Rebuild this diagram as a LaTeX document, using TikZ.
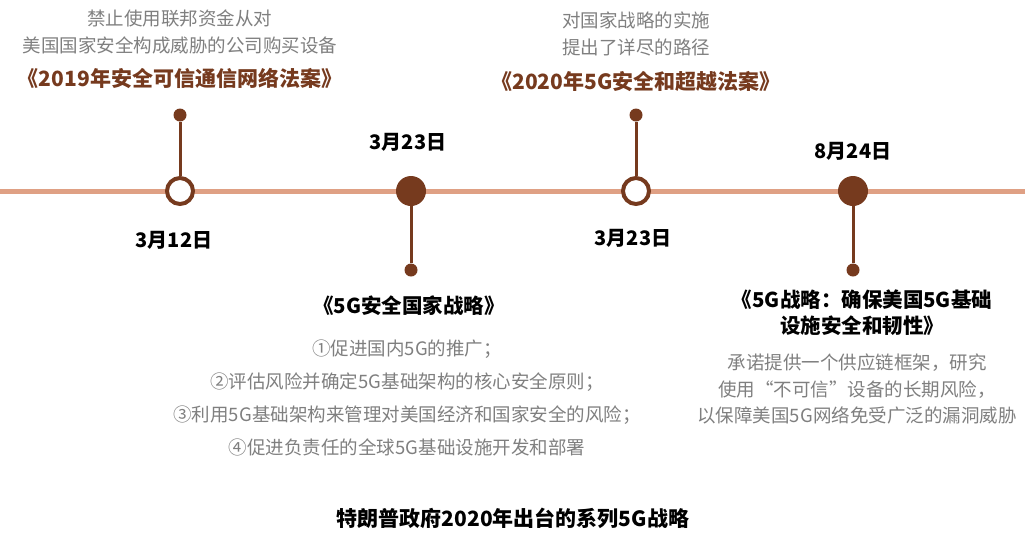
\documentclass[tikz,border=0pt]{standalone}
\usepackage{fontspec}
\setmainfont{Noto Sans CJK SC}
\usepackage{xcolor}
\usepackage{tikz}
\usetikzlibrary{positioning}

\definecolor{brownmark}{HTML}{763A1E}
\definecolor{axisline}{HTML}{DFA084}
\definecolor{greytext}{HTML}{7F7F7F}

\begin{document}
\begin{tikzpicture}[
    x=1pt, y=-1pt,
    axis/.style={axisline, line width=5pt},
    hollow/.style={circle, draw=brownmark, line width=4pt, fill=white, minimum size=26pt, inner sep=0pt},
    solid/.style={circle, fill=brownmark, minimum size=30pt, inner sep=0pt},
    tip/.style={circle, fill=brownmark, minimum size=13pt, inner sep=0pt},
    stem/.style={brownmark, line width=3pt},
    date/.style={font=\bfseries\fontsize{20}{24}\selectfont, text=black},
    law/.style={font=\bfseries\fontsize{21}{26}\selectfont, text=brownmark, align=center},
    plan/.style={font=\bfseries\fontsize{20.5}{26}\selectfont, text=black, align=center},
    note/.style={font=\fontsize{18.5}{27}\selectfont, text=greytext, align=center}
  ]
    \useasboundingbox (0,0) rectangle (1029,542);

    % time axis
    \coordinate (start) at (0,191);
    \coordinate (end) at (1025,191);
    \draw[axis] (start) -- (end);

    \node[hollow] (ev1) at (180,191) {};
    \node[solid] (ev2) at (411,191) {};
    \node[hollow] (ev3) at (636,191) {};
    \node[solid] (ev4) at (853,191) {};

    \node[tip] (tip1) at (180,115) {};
    \node[tip] (tip2) at (411,270) {};
    \node[tip] (tip3) at (636,115) {};
    \node[tip] (tip4) at (853,270) {};

    \draw[stem] (tip1) -- (ev1);
    \draw[stem] (ev2) -- (tip2);
    \draw[stem] (tip3) -- (ev3);
    \draw[stem] (ev4) -- (tip4);

    % dates
    \node[date] (date1) at (174,240) {3月12日};
    \node[date] (date2) at (408,142) {3月23日};
    \node[date] (date3) at (633,238) {3月23日};
    \node[date] (date4) at (853,151) {8月24日};

    % upper texts
    \node[note] (note1) at (180,32) {禁止使用联邦资金从对\\美国国家安全构成威胁的公司购买设备};
    \node[law] (law1) at (180,78) {《2019年安全可信通信网络法案》};
    \node[note] (note3) at (636,34) {对国家战略的实施\\提出了详尽的路径};
    \node[law] (law3) at (636,81) {《2020年5G安全和超越法案》};

    % lower texts
    \node[plan] (plan2) at (409,306) {《5G安全国家战略》};
    \node[note, font=\fontsize{18.5}{33.3}\selectfont] (note2) at (407,398)
      {①促进国内5G的推广；\\②评估风险并确定5G基础架构的核心安全原则；\\③利用5G基础架构来管理对美国经济和国家安全的风险；\\④促进负责任的全球5G基础设施开发和部署};
    \node[plan] (plan4) at (862,313) {《5G战略：确保美国5G基础\\设施安全和韧性》};
    \node[note, font=\fontsize{18.5}{26.5}\selectfont] (note4) at (857,389)
      {承诺提供一个供应链框架，研究\\使用“不可信”设备的长期风险，\\以保障美国5G网络免受广泛的漏洞威胁};

    \node[plan, font=\bfseries\fontsize{21}{26}\selectfont] (caption) at (513,518) {特朗普政府2020年出台的系列5G战略};
  \end{tikzpicture}
\end{document}
